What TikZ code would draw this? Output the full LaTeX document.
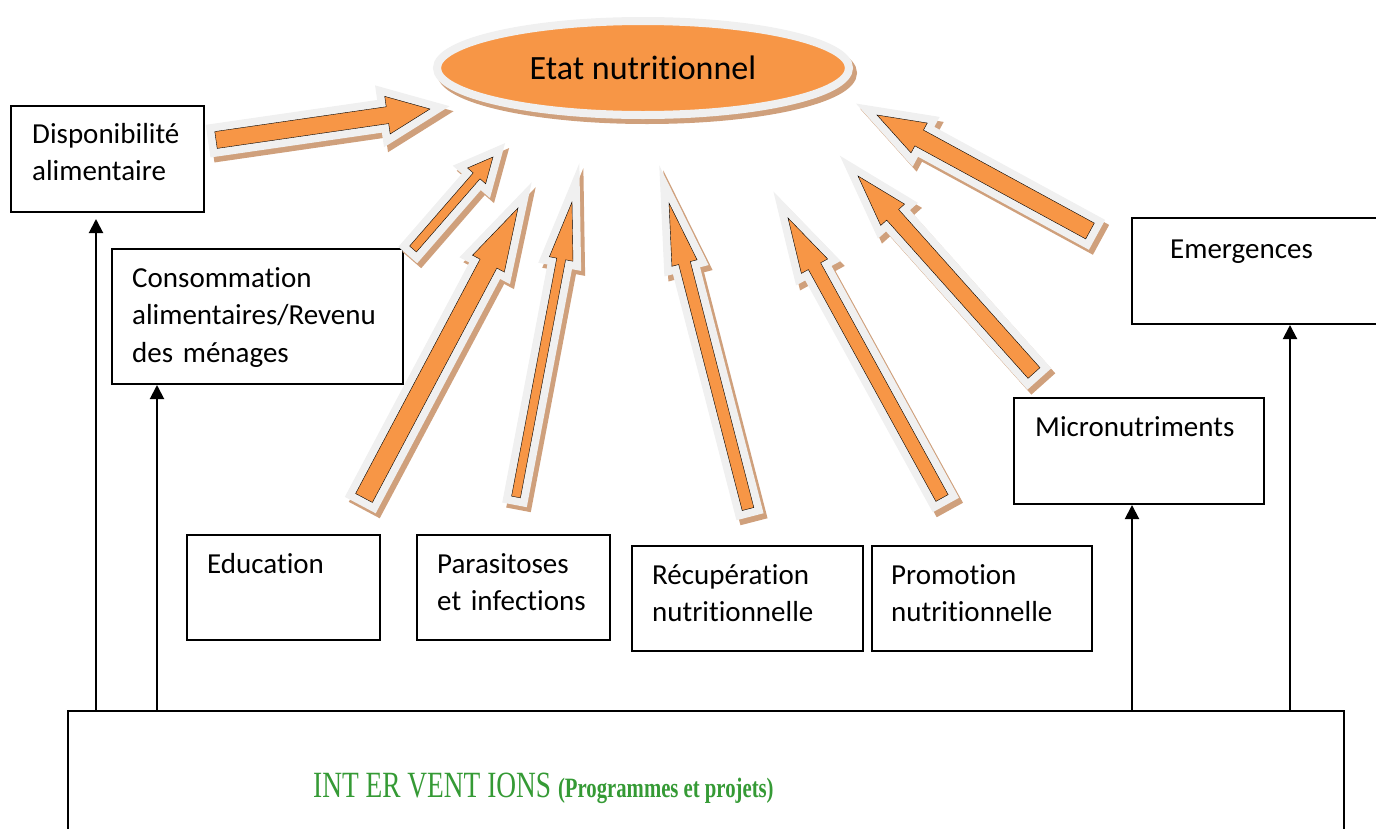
\documentclass[tikz,border=0pt]{standalone}
\usepackage{fontspec}
\setmainfont{Carlito}[Ligatures=NoCommon]
\newfontfamily\greenfont[FakeStretch=0.74]{Liberation Serif}
\usetikzlibrary{calc,shapes.geometric,arrows.meta}

\definecolor{arrorange}{HTML}{F79646}
\definecolor{glowgray}{HTML}{F0F0F0}
\definecolor{shadowtan}{HTML}{CFA07C}
\definecolor{intergreen}{HTML}{359A35}

\tikzset{
  box/.style={draw, line width=2pt, inner sep=0pt, anchor=north west},
  boxtext/.style={anchor=base west, inner sep=0pt, align=left, text width=280pt,
    font=\fontsize{29}{37.5}\selectfont},
  link/.style={-{Triangle[length=14pt,width=14pt]}, line width=2pt},
  blk/.style={fill=arrorange,
    preaction={draw=shadowtan, fill=shadowtan, line width=16pt,
      transform canvas={shift={(4pt,-5pt)}}},
    preaction={draw=glowgray, fill=glowgray, line width=16pt}},
  etatshape/.style={ellipse, inner sep=0pt, minimum width=412pt, minimum height=94pt,
    fill=arrorange, draw=glowgray, line width=8pt,
    preaction={draw=shadowtan, fill=shadowtan, line width=8pt,
      transform canvas={shift={(4pt,-5pt)}}},
    font=\fontsize{34}{40}\selectfont},
}

% tail, tip, shaft half width, head half width, head length
\newcommand\blockarrow[5]{%
  \coordinate (hb) at ($(#2)!#5!(#1)$);
  \draw[blk] ($(#1)!#3!90:(#2)$) -- ($(hb)!#3!90:(#2)$) -- ($(hb)!#4!90:(#2)$) -- (#2)
    -- ($(hb)!#4!-90:(#2)$) -- ($(hb)!#3!-90:(#2)$) -- ($(#1)!#3!-90:(#2)$) -- cycle;}

\begin{document}
\begin{tikzpicture}[x=1pt, y=-1pt]
\useasboundingbox (0,0) rectangle (1376,828);
\clip (0,0) rectangle (1376,828);

% boxes
\node[box, minimum width=193pt, minimum height=106pt] (dispo) at (10,105) {};
\node[box, minimum width=291pt, minimum height=135pt] (conso) at (111,248) {};
\node[box, minimum width=193pt, minimum height=105pt] (educ) at (186,534) {};
\node[box, minimum width=193pt, minimum height=105pt] (para) at (416,534) {};
\node[box, minimum width=231pt, minimum height=105pt] (recup) at (631,545) {};
\node[box, minimum width=220pt, minimum height=105pt] (promo) at (871,545) {};
\node[box, minimum width=250pt, minimum height=106pt] (micro) at (1013,397) {};
\node[box, minimum width=300pt, minimum height=106pt] (emerg) at (1131,217) {};
\node[box, minimum width=1276pt, minimum height=160pt] (inter) at (67,710) {};

\node[boxtext] (dispo-t) at (32,143) {Disponibilité\\alimentaire};
\node[boxtext] (conso-t) at (132,287) {Consommation\\alimentaires/Revenu\\des ménages};
\node[boxtext] (educ-t) at (207,573) {Education};
\node[boxtext] (para-t) at (437,573) {Parasitoses\\et infections};
\node[boxtext] (recup-t) at (652,584) {Récupération\\nutritionnelle};
\node[boxtext] (promo-t) at (891,584) {Promotion\\nutritionnelle};
\node[boxtext] (micro-t) at (1035,436) {Micronutriments};
\node[boxtext] (emerg-t) at (1170,258) {Emergences};

\node[anchor=base west, inner sep=0pt, text=intergreen] (inter-t) at (313,797)
  {\greenfont\fontsize{37}{40}\selectfont INT ER VENT IONS
   {\fontsize{28}{30}\selectfont\bfseries(Programmes et projets)}};

% interventions
\draw[link, shorten >=6pt] (inter.north -| 96,0) -- (dispo.south -| 96,0);
\draw[link] (inter.north -| 157,0) -- (conso.south -| 157,0);
\draw[link] (inter.north -| 1132,0) -- (micro.south -| 1132,0);
\draw[link] (inter.north -| 1290,0) -- (emerg.south -| 1290,0);

% orange arrows
\foreach \tx/\ty/\px/\py/\sw/\hw/\hl in {
  216/140/430/109/8.5pt/19pt/43pt,
  413/249/493/157/4.5pt/12pt/25pt,
  364/498/518/208/9.5pt/18pt/63pt,
  516/497/572/202/4.5pt/12pt/58pt,
  748/509/669/203/6pt/13pt/62pt,
  942/498/788/218/7pt/15pt/55pt,
  1034/373/858/176/8pt/16pt/52pt,
  1090/231/877/115/9pt/17pt/48pt}
{
  \coordinate (tail) at (\tx,\ty);
  \coordinate (tip) at (\px,\py);
  \blockarrow{tail}{tip}{\sw}{\hw}{\hl}
}

\node[etatshape] (etat) at (643,68) {Etat nutritionnel};
\end{tikzpicture}
\end{document}
